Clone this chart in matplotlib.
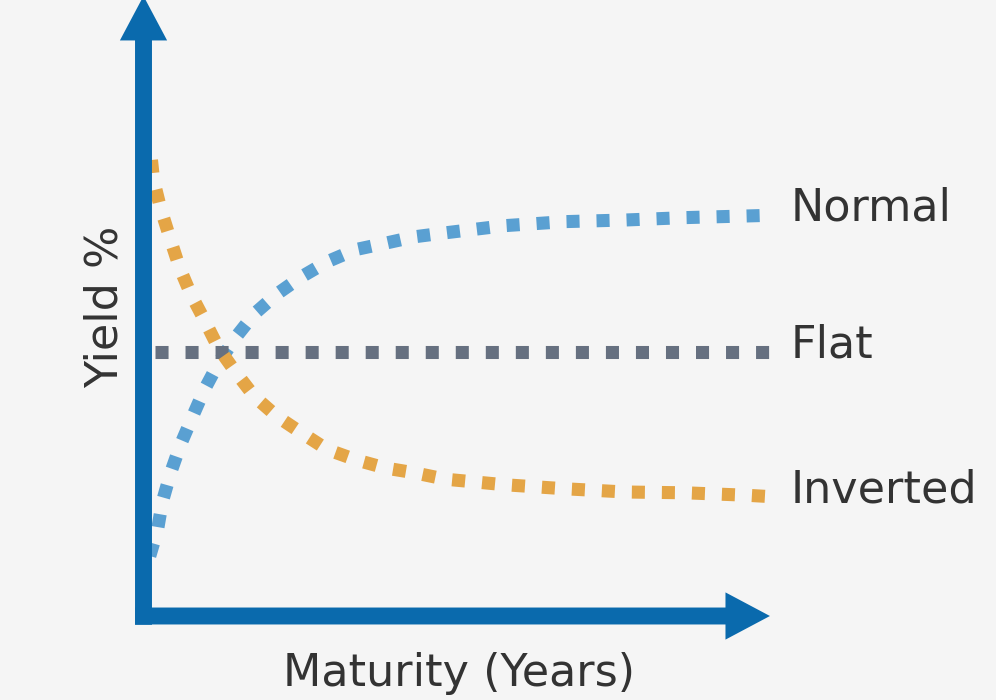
import matplotlib
matplotlib.use('Agg')
import matplotlib.pyplot as plt

# Curve values (maturity in years, yield in %)
normal_x = [0.3, 0.67, 0.9, 1.29, 1.76, 2.33, 2.9, 3.57, 4.38, 5.29, 6.38, 7.52, 8.76,
            10.1, 11.52, 12.9, 14.38, 17.24, 20.1, 22.95, 25.81, 28.67, 30.0]
normal_y = [0.75, 1.08, 1.43, 1.79, 2.14, 2.49, 2.83, 3.16, 3.48, 3.78, 4.03, 4.24, 4.43,
            4.58, 4.66, 4.74, 4.79, 4.88, 4.93, 4.95, 4.98, 5.0, 5.01]

inverted_x = [0.38, 0.48, 0.81, 1.24, 1.71, 2.24, 2.9, 3.57, 4.38, 5.29, 6.38, 7.52, 8.76,
              10.14, 11.52, 12.9, 14.38, 17.24, 20.1, 22.95, 25.81, 28.67, 30.0]
inverted_y = [5.7, 5.45, 5.1, 4.74, 4.36, 4.03, 3.7, 3.35, 3.05, 2.74, 2.49, 2.29, 2.08,
              1.95, 1.85, 1.79, 1.71, 1.64, 1.59, 1.55, 1.54, 1.51, 1.49]

flat_x = [0.57, 30.0]
flat_y = [3.3, 3.3]

labels = ['Normal', 'Flat', 'Inverted']
colors = ['#5aa0d2', '#667080', '#e4a546']
axis_color = '#0a6aad'
text_color = '#333333'

fig = plt.figure(figsize=(9.96, 7.0), dpi=100, facecolor='#f5f5f5')
# axes placed so the origin sits on the corner of the two arrows
ax = fig.add_axes([143.5 / 996, 84 / 700, 630 / 996, 616 / 700])
ax.set_xlim(0, 30)
ax.set_ylim(0, 7.7)
ax.axis('off')

series = [(normal_x, normal_y), (flat_x, flat_y), (inverted_x, inverted_y)]
for (xs, ys), name, c in zip(series, labels, colors):
    ax.plot(xs, ys, color=c, lw=9.4, linestyle=(0, (1, 1.3)),
            solid_capstyle='butt', dash_capstyle='butt', clip_on=False)
    ax.text(xs[-1] + 0.8, ys[-1] - 0.07, name, fontsize=32, color=text_color,
            va='baseline', ha='left', family='DejaVu Sans')

# axis arrows
arrow = dict(arrowstyle='simple,tail_width=1.22,head_width=3.4,head_length=3.2',
             color=axis_color, lw=0, mutation_scale=10, shrinkA=0, shrinkB=0)
ax.annotate('', xy=(0, 7.75), xytext=(0, -0.11), arrowprops=arrow, annotation_clip=False)
ax.annotate('', xy=(29.83, 0), xytext=(-0.4, 0), arrowprops=arrow, annotation_clip=False)

fig.text(459 / 996, 14 / 700, 'Maturity (Years)', fontsize=32, color=text_color,
         ha='center', va='baseline')
fig.text(105 / 996, 1 - 307 / 700, 'Yield %', fontsize=32, color=text_color,
         ha='center', va='center', rotation=90)

fig.savefig('out.png', dpi=100, facecolor=fig.get_facecolor())
